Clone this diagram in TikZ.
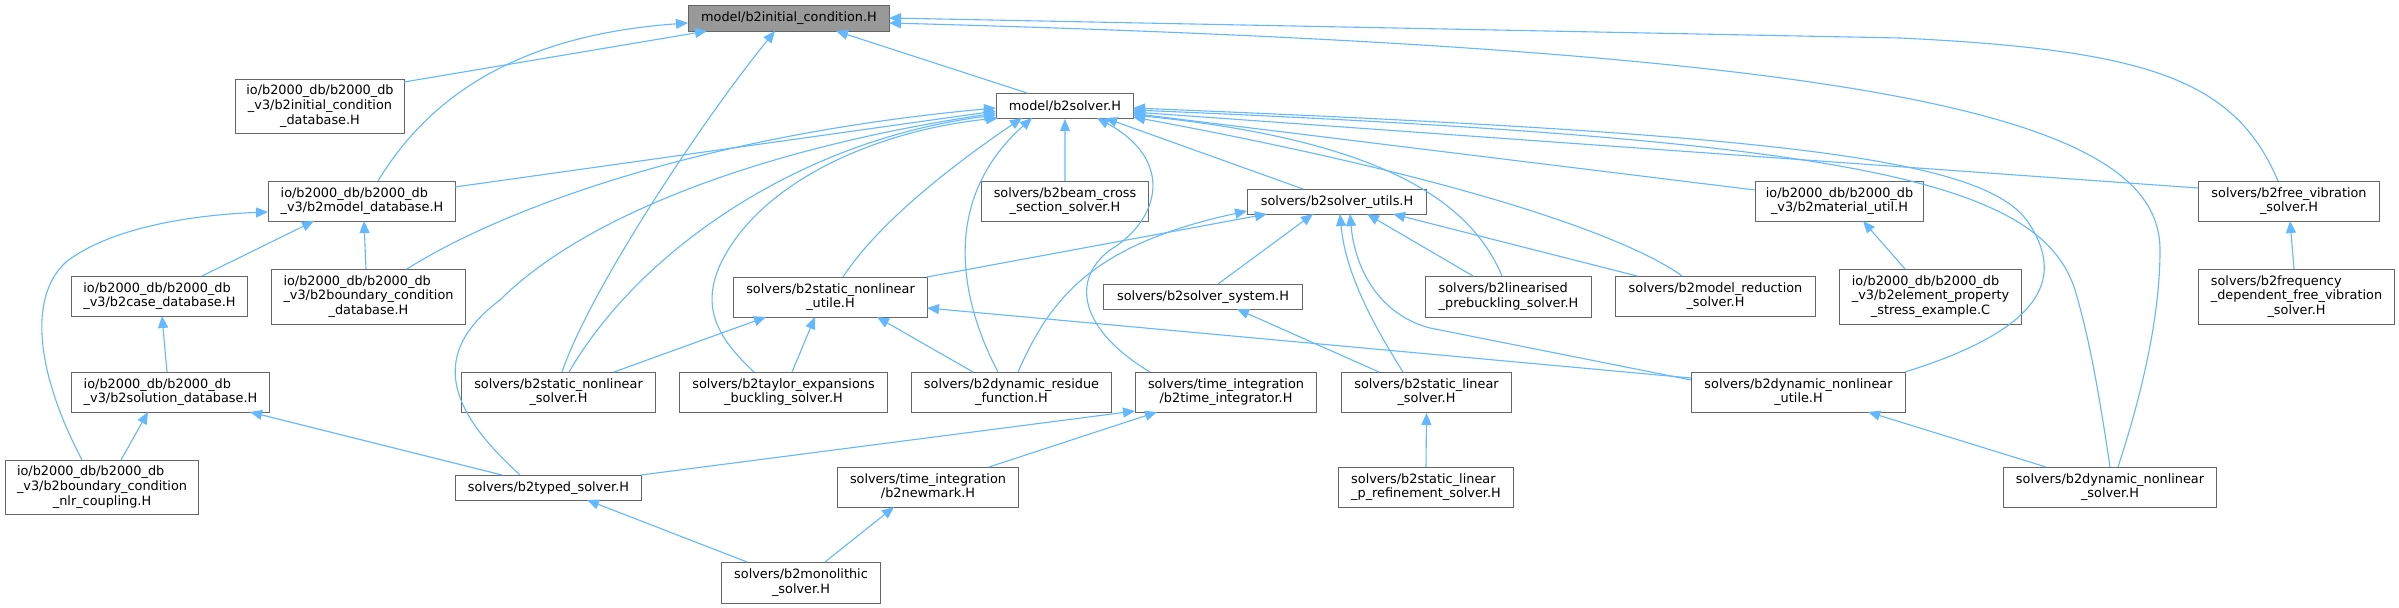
\documentclass[tikz,border=0pt]{standalone}
\usepackage{fontspec}
\setmainfont{DejaVu Sans}
\usetikzlibrary{arrows.meta,calc}
\definecolor{edgec}{HTML}{63B8FF}
\definecolor{bord}{HTML}{666666}
\definecolor{rootfill}{HTML}{999999}
\newcommand\dxlabel[2]{\begin{tabular}{@{}c@{}}\multicolumn{1}{@{}l@{}}{#1}\\#2\end{tabular}}
\tikzset{
  box/.style={draw=bord, line width=1bp, fill=white, inner sep=0pt, anchor=north west,
    align=center, font=\fontsize{12.9}{14.7}\selectfont},
  rootbox/.style={box, fill=rootfill},
  edge/.style={draw=edgec, line width=1.1bp, -{Triangle[length=12bp,width=10bp]}},
}
\begin{document}
\begin{tikzpicture}[x=1bp,y=-1bp]
\fill[white] (0,0) rectangle (2399,608);
\useasboundingbox (0,0) rectangle (2399,608);

% ---------- nodes ----------
\node[rootbox, minimum width=201bp, minimum height=26bp] (root) at (688,5) {model/b2initial\_condition.H};
\node[box, minimum width=169bp, minimum height=54bp] (icdb) at (235,79) {\dxlabel{io/b2000\_db/b2000\_db}{\_v3/b2initial\_condition\\\_database.H}};
\node[box, minimum width=187bp, minimum height=40bp] (mdb) at (268,181) {\dxlabel{io/b2000\_db/b2000\_db}{\_v3/b2model\_database.H}};
\node[box, minimum width=176bp, minimum height=40bp] (cdb) at (71,276) {\dxlabel{io/b2000\_db/b2000\_db}{\_v3/b2case\_database.H}};
\node[box, minimum width=194bp, minimum height=55bp] (bcdb) at (271,269) {\dxlabel{io/b2000\_db/b2000\_db}{\_v3/b2boundary\_condition\\\_database.H}};
\node[box, minimum width=194bp, minimum height=40bp] (snlu) at (733,277) {\dxlabel{solvers/b2static\_nonlinear}{\_utile.H}};
\node[box, minimum width=137bp, minimum height=25bp] (solver) at (996,93) {model/b2solver.H};
\node[box, minimum width=167bp, minimum height=40bp] (beam) at (981,181) {\dxlabel{solvers/b2beam\_cross}{\_section\_solver.H}};
\node[box, minimum width=179bp, minimum height=25bp] (su) at (1247,189) {solvers/b2solver\_utils.H};
\node[box, minimum width=199bp, minimum height=25bp] (sys) at (1103,284) {solvers/b2solver\_system.H};
\node[box, minimum width=166bp, minimum height=41bp] (lin) at (1425,276) {\dxlabel{solvers/b2linearised}{\_prebuckling\_solver.H}};
\node[box, minimum width=168bp, minimum height=40bp] (mu) at (1755,181) {\dxlabel{io/b2000\_db/b2000\_db}{\_v3/b2material\_util.H}};
\node[box, minimum width=181bp, minimum height=40bp] (fv) at (2198,181) {\dxlabel{solvers/b2free\_vibration}{\_solver.H}};
\node[box, minimum width=200bp, minimum height=40bp] (mr) at (1615,276) {\dxlabel{solvers/b2model\_reduction}{\_solver.H}};
\node[box, minimum width=182bp, minimum height=55bp] (ep) at (1839,269) {\dxlabel{io/b2000\_db/b2000\_db}{\_v3/b2element\_property\\\_stress\_example.C}};
\node[box, minimum width=196bp, minimum height=55bp] (fq) at (2198,269) {\dxlabel{solvers/b2frequency}{\_dependent\_free\_vibration\\\_solver.H}};
\node[box, minimum width=198bp, minimum height=40bp] (sdb) at (71,372) {\dxlabel{io/b2000\_db/b2000\_db}{\_v3/b2solution\_database.H}};
\node[box, minimum width=193bp, minimum height=54bp] (nlr) at (5,460) {\dxlabel{io/b2000\_db/b2000\_db}{\_v3/b2boundary\_condition\\\_nlr\_coupling.H}};
\node[box, minimum width=194bp, minimum height=40bp] (snls) at (461,372) {\dxlabel{solvers/b2static\_nonlinear}{\_solver.H}};
\node[box, minimum width=208bp, minimum height=40bp] (taylor) at (679,372) {\dxlabel{solvers/b2taylor\_expansions}{\_buckling\_solver.H}};
\node[box, minimum width=186bp, minimum height=25bp] (typed) at (455,475) {solvers/b2typed\_solver.H};
\node[box, minimum width=159bp, minimum height=41bp] (mono) at (721,562) {\dxlabel{solvers/b2monolithic}{\_solver.H}};
\node[box, minimum width=200bp, minimum height=40bp] (dres) at (911,372) {\dxlabel{solvers/b2dynamic\_residue}{\_function.H}};
\node[box, minimum width=181bp, minimum height=40bp] (ti) at (1135,372) {\dxlabel{solvers/time\_integration}{/b2time\_integrator.H}};
\node[box, minimum width=170bp, minimum height=40bp] (sl) at (1341,372) {\dxlabel{solvers/b2static\_linear}{\_solver.H}};
\node[box, minimum width=181bp, minimum height=40bp] (nm) at (837,467) {\dxlabel{solvers/time\_integration}{/b2newmark.H}};
\node[box, minimum width=175bp, minimum height=40bp] (slp) at (1338,467) {\dxlabel{solvers/b2static\_linear}{\_p\_refinement\_solver.H}};
\node[box, minimum width=214bp, minimum height=40bp] (dnu) at (1691,372) {\dxlabel{solvers/b2dynamic\_nonlinear}{\_utile.H}};
\node[box, minimum width=213bp, minimum height=40bp] (dns) at (2003,467) {\dxlabel{solvers/b2dynamic\_nonlinear}{\_solver.H}};

% ---------- edges to root ----------
\draw[edge] ($(icdb.north west)+(169,3)$) -- ($(root.north west)+(19,26)$);
\draw[edge] ($(mdb.north west)+(110,0)$) .. controls (430,95) and (520,35) .. ($(root.north west)+(0,18)$);
\draw[edge] ($(snls.north west)+(101,0)$) .. controls (590,290) and (701,122) .. ($(root.north west)+(87,26)$);
\draw[edge] ($(solver.north west)+(31,0)$) -- ($(root.north west)+(148,26)$);
\draw[edge] ($(fv.north west)+(80,0)$) .. controls (2235,80) and (2150,50) .. (1900,38) -- ($(root.north west)+(201,13)$);
\draw[edge] ($(dns.north west)+(115,0)$) .. controls (2140,400) and (2160,320) .. (2160,250) .. controls (2160,120) and (1900,50) .. ($(root.north west)+(201,18)$);

% ---------- edges to model/b2solver.H ----------
\draw[edge] ($(mdb.north west)+(187,6)$) -- ($(solver.north west)+(0,18)$);
\draw[edge] ($(bcdb.north west)+(136,0)$) .. controls (500,210) and (700,135) .. ($(solver.north west)+(0,15)$);
\draw[edge] ($(typed.north west)+(65,0)$) .. controls (460,420) and (420,360) .. (500,300) .. controls (580,220) and (750,150) .. ($(solver.north west)+(0,20)$);
\draw[edge] ($(snls.north west)+(108,0)$) .. controls (640,250) and (800,140) .. ($(solver.north west)+(0,22)$);
\draw[edge] ($(taylor.north west)+(75,0)$) .. controls (720,340) and (700,310) .. (720,265) .. controls (760,180) and (880,130) .. ($(solver.north west)+(2,25)$);
\draw[edge] ($(snlu.north west)+(110,0)$) .. controls (880,220) and (960,160) .. ($(solver.north west)+(26,25)$);
\draw[edge] ($(dres.north west)+(87,0)$) .. controls (960,300) and (940,200) .. ($(solver.north west)+(36,25)$);
\draw[edge] ($(ti.north west)+(15,0)$) .. controls (1080,330) and (1070,280) .. (1110,250) .. controls (1160,220) and (1175,160) .. ($(solver.north west)+(101,25)$);
\draw[edge] (beam.north) -- (solver.south);
\draw[edge] ($(su.north west)+(56,0)$) -- ($(solver.north west)+(109,25)$);
\draw[edge] ($(lin.north west)+(77,0)$) .. controls (1470,200) and (1380,140) .. ($(solver.north west)+(137,22)$);
\draw[edge] ($(mr.north west)+(67,0)$) .. controls (1640,245) and (1500,185) .. ($(solver.north west)+(137,24)$);
\draw[edge] ($(mu.north west)+(0,9)$) -- ($(solver.north west)+(137,20.5)$);
\draw[edge] ($(fv.north west)+(0,7)$) -- ($(solver.north west)+(137,19)$);
\draw[edge] ($(dnu.north west)+(214,0)$) .. controls (2040,330) and (2065,280) .. (2030,225) .. controls (1990,160) and (1800,135) .. ($(solver.north west)+(137,15)$);
\draw[edge] ($(dns.north west)+(107,0)$) .. controls (2100,400) and (2090,340) .. (2075,290) .. controls (2040,180) and (1850,140) .. ($(solver.north west)+(137,17)$);

% ---------- edges to solvers/b2solver_utils.H ----------
\draw[edge] ($(snlu.north west)+(194,0)$) -- ($(su.north west)+(20,25)$);
\draw[edge] ($(dres.north west)+(107,0)$) .. controls (1050,300) and (1090,245) .. ($(su.north west)+(0,22)$);
\draw[edge] ($(sys.north west)+(115,0)$) -- ($(su.north west)+(66,25)$);
\draw[edge] ($(sl.north west)+(62,0)$) .. controls (1370,320) and (1345,270) .. ($(su.north west)+(93,25)$);
\draw[edge] ($(dnu.north west)+(0,8)$) -- (1430,328) .. controls (1380,315) and (1355,270) .. ($(su.north west)+(103,25)$);
\draw[edge] ($(lin.north west)+(48,0)$) -- ($(su.north west)+(120,25)$);
\draw[edge] ($(mr.north west)+(22,0)$) -- ($(su.north west)+(146,25)$);

% ---------- edges to solvers/b2static_nonlinear_utile.H ----------
\draw[edge] ($(snls.north west)+(153,0)$) -- ($(snlu.north west)+(33,40)$);
\draw[edge] ($(taylor.north west)+(113,0)$) -- ($(snlu.north west)+(82,40)$);
\draw[edge] ($(dres.north west)+(62,0)$) -- ($(snlu.north west)+(144,40)$);
\draw[edge] ($(dnu.north west)+(0,6)$) -- ($(snlu.north west)+(194,31)$);

% ---------- other edges ----------
\draw[edge] ($(typed.north west)+(186,0)$) -- ($(ti.north west)+(0,39)$);
\draw[edge] ($(nm.north west)+(152,0)$) -- ($(ti.north west)+(22,40)$);
\draw[edge] ($(sl.north west)+(38,0)$) -- ($(sys.north west)+(134,25)$);
\draw[edge] (slp.north) -- (sl.south);
\draw[edge] ($(mono.north west)+(104,0)$) -- ($(nm.north west)+(57,40)$);
\draw[edge] ($(mono.north west)+(26,0)$) -- ($(typed.north west)+(132,25)$);
\draw[edge] ($(typed.north west)+(47,0)$) -- ($(sdb.north west)+(179,40)$);
\draw[edge] ($(nlr.north west)+(116,0)$) -- ($(sdb.north west)+(77,40)$);
\draw[edge] ($(sdb.north west)+(96,0)$) -- ($(cdb.north west)+(91,40)$);
\draw[edge] ($(cdb.north west)+(131,0)$) -- ($(mdb.north west)+(46,40)$);
\draw[edge] ($(bcdb.north west)+(95,0)$) -- ($(mdb.north west)+(96,40)$);
\draw[edge] ($(nlr.north west)+(77,0)$) .. controls (40,380) and (25,300) .. (66,262) .. controls (110,228) and (190,215) .. ($(mdb.north west)+(0,31)$);
\draw[edge] ($(ep.north west)+(66,0)$) -- ($(mu.north west)+(108,40)$);
\draw[edge] ($(fq.north west)+(96,0)$) -- ($(fv.north west)+(92,40)$);
\draw[edge] ($(dns.north west)+(43,0)$) -- ($(dnu.north west)+(177,40)$);
\end{tikzpicture}
\end{document}
